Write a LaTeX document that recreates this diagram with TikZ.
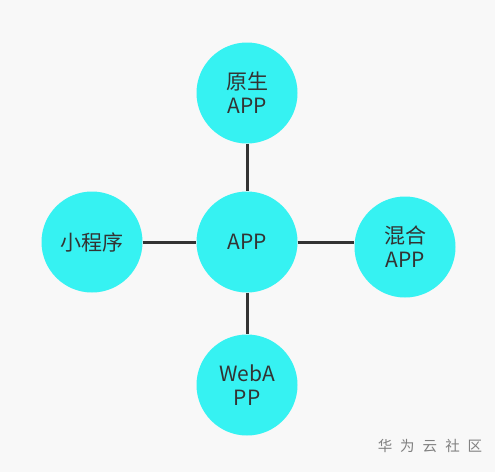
\documentclass[tikz,border=0pt]{standalone}
\usepackage{fontspec}
\setmainfont{Noto Sans CJK SC}
\usepackage{tikz}
\usetikzlibrary{positioning}
\definecolor{appcyan}{HTML}{36F2F2}
\definecolor{bggray}{HTML}{F8F8F8}
\definecolor{txtgray}{HTML}{333333}
\begin{document}
\begin{tikzpicture}[
  x=1pt, y=-1pt,
  ball/.style={circle, fill=appcyan, minimum size=101pt, inner sep=0pt, font=\fontsize{21}{24}\selectfont, text=txtgray, align=center},
  link/.style={draw=txtgray, line width=3pt}
]
\fill[bggray] (0,0) rectangle (495,472);
\useasboundingbox (0,0) rectangle (495,472);
\node[ball] (app) at (247,242) {APP};
\node[ball] (native) at (247,93) {原生\\APP};
\node[ball] (mini) at (92,242) {小程序};
\node[ball] (hybrid) at (405,247) {混合\\APP};
\node[ball] (web) at (247,385) {WebA\\PP};
\draw[link] (native) -- (app);
\draw[link] (mini) -- (app);
\draw[link] (app.east) -- (hybrid.west |- app.east);
\draw[link] (app) -- (web);
\node[font=\fontsize{14.5}{16}\selectfont, text=gray] (mark) at (430,446) {华\hspace{8pt}为\hspace{8pt}云\hspace{8pt}社\hspace{8pt}区};
\end{tikzpicture}
\end{document}
